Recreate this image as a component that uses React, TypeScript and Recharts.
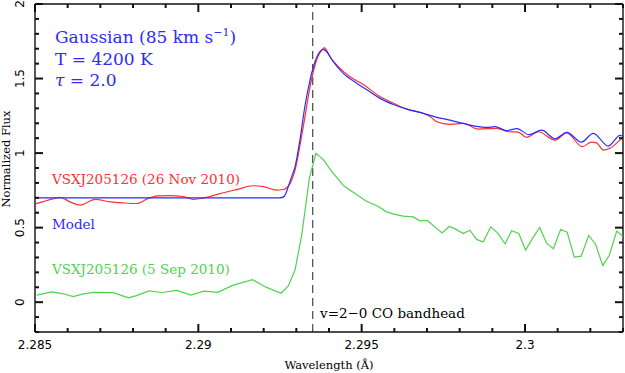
import React from "react";
import { LineChart, Line, XAxis, YAxis, ReferenceLine } from "recharts";

// Model (Gaussian 85 km/s, T = 4200 K, tau = 2.0)
const modelWave = [
  2.285, 2.2925, 2.29262, 2.29275, 2.29285, 2.29296, 2.29311, 2.29326, 2.29342,
  2.29357, 2.29372, 2.29382, 2.29393, 2.29413, 2.29444, 2.29485, 2.29525, 2.29556,
  2.29597, 2.29638, 2.29689, 2.2973, 2.2977, 2.29811, 2.29852, 2.29883, 2.29908,
  2.29944, 2.29975, 2.30012, 2.30051, 2.30092, 2.30128, 2.30173, 2.30209, 2.30255,
  2.30291, 2.303,
];
const modelFlux = [
  0.7, 0.7, 0.708, 0.772, 0.839, 0.908, 1.087, 1.311, 1.49,
  1.613, 1.68, 1.696, 1.68, 1.613, 1.535, 1.468, 1.411, 1.367,
  1.326, 1.295, 1.266, 1.24, 1.221, 1.199, 1.179, 1.172, 1.177,
  1.151, 1.164, 1.124, 1.154, 1.096, 1.139, 1.074, 1.132, 1.047,
  1.119, 1.114,
];

// VSXJ205126, 26 Nov 2010
const novWave = [
  2.28503, 2.28541, 2.28577, 2.28607, 2.28638, 2.28684, 2.2873, 2.2877, 2.28811,
  2.28847, 2.28876, 2.28913, 2.28954, 2.28985, 2.29015, 2.29066, 2.29117, 2.29168,
  2.29199, 2.2924, 2.2926, 2.29281, 2.29296, 2.29321, 2.29342, 2.29362, 2.29372,
  2.29386, 2.29403, 2.29434, 2.29464, 2.29505, 2.29556, 2.29596, 2.29627, 2.29658,
  2.29689, 2.29709, 2.2973, 2.2977, 2.29811, 2.29857, 2.29913, 2.29949, 2.29979,
  2.30005, 2.30041, 2.30092, 2.30128, 2.30175, 2.30204, 2.30219, 2.3024, 2.3026,
  2.30296, 2.303,
];
const novFlux = [
  0.661, 0.685, 0.703, 0.673, 0.651, 0.689, 0.673, 0.666, 0.662,
  0.696, 0.713, 0.715, 0.709, 0.69, 0.698, 0.728, 0.755, 0.781,
  0.775, 0.752, 0.756, 0.797, 0.886, 1.174, 1.445, 1.624, 1.671,
  1.706, 1.646, 1.568, 1.512, 1.46, 1.379, 1.336, 1.304, 1.285,
  1.266, 1.245, 1.21, 1.193, 1.199, 1.161, 1.166, 1.143, 1.141,
  1.105, 1.143, 1.087, 1.136, 1.043, 1.074, 1.069, 1.02, 1.032,
  1.099, 1.107,
];

// VSXJ205126, 5 Sep 2010
const sepWave = [
  2.28505, 2.28551, 2.28584, 2.28617, 2.28648, 2.28678, 2.2874, 2.28786, 2.28811,
  2.28849, 2.28888, 2.28934, 2.28977, 2.29017, 2.29059, 2.29107, 2.29166, 2.29209,
  2.29253, 2.29275, 2.29296, 2.29316, 2.29331, 2.2934, 2.2936, 2.29382, 2.29408,
  2.29444, 2.29474, 2.29512, 2.29551, 2.29576, 2.29602, 2.29627, 2.29658, 2.29678,
  2.29701, 2.29724, 2.29746, 2.29768, 2.29788, 2.29811, 2.29831, 2.29852, 2.29872,
  2.29895, 2.29916, 2.29939, 2.29959, 2.29981, 2.30002, 2.30023, 2.30045, 2.30066,
  2.30087, 2.30109, 2.30129, 2.30151, 2.30172, 2.30195, 2.30216, 2.30238, 2.30258,
  2.30281, 2.303,
];
const sepFlux = [
  0.047, 0.069, 0.058, 0.038, 0.056, 0.066, 0.064, 0.029, 0.044,
  0.076, 0.065, 0.079, 0.047, 0.074, 0.066, 0.114, 0.151, 0.099,
  0.06, 0.107, 0.215, 0.443, 0.685, 0.832, 0.998, 0.958, 0.879,
  0.782, 0.738, 0.68, 0.642, 0.606, 0.589, 0.577, 0.572, 0.546,
  0.548, 0.505, 0.465, 0.508, 0.49, 0.461, 0.483, 0.421, 0.403,
  0.505, 0.465, 0.391, 0.479, 0.461, 0.349, 0.428, 0.501, 0.396,
  0.358, 0.488, 0.47, 0.302, 0.309, 0.448, 0.389, 0.246, 0.315,
  0.477, 0.44,
];

const bandhead = 2.2935;
const xDomain = [2.285, 2.303];
const yDomain = [-0.2, 2.0];
const xTicks = Array.from({ length: 19 }, (_, i) => +(2.285 + i * 0.001).toFixed(3));
const yTicks = Array.from({ length: 23 }, (_, i) => +(-0.2 + i * 0.1).toFixed(1));

const RED = "#ff2f2f";
const BLUE = "#2b2bff";
const GREEN = "#4fd34f";
const INK = "#111";

const W = 625;
const H = 373;
const MARGIN = { top: 4, right: 2, bottom: 0, left: 0 };
const PLOT_TOP = MARGIN.top;
const PLOT_RIGHT = W - MARGIN.right;

const pts = (w: number[], f: number[]) => w.map((x, i) => ({ w: x, f: f[i] }));

const isMajorX = (v: number) => Math.abs(v * 200 - Math.round(v * 200)) < 1e-6;
const isMajorY = (v: number) => Math.abs(v * 2 - Math.round(v * 2)) < 1e-6;
const fmt = (v: number) => String(parseFloat(v.toFixed(3)));

const tickFont = { fontFamily: "DejaVu Sans", fontSize: 12, fill: "#000" };
const tickLine = { stroke: INK, strokeWidth: 2 };

// bottom axis: inward ticks + labels, mirrored on the top edge
const BottomTick = ({ x, y, payload }: any) => {
  const len = isMajorX(payload.value) ? 8 : 4;
  return (
    <g>
      <line x1={x} x2={x} y1={y} y2={y - len} {...tickLine} />
      <line x1={x} x2={x} y1={PLOT_TOP} y2={PLOT_TOP + len} {...tickLine} />
      {len === 8 && (
        <text x={x} y={y + 17} textAnchor="middle" {...tickFont}>
          {fmt(payload.value)}
        </text>
      )}
    </g>
  );
};

// left axis: inward ticks + rotated labels, mirrored on the right edge
const LeftTick = ({ x, y, payload }: any) => {
  const len = isMajorY(payload.value) ? 8 : 4;
  return (
    <g>
      <line x1={x} x2={x + len} y1={y} y2={y} {...tickLine} />
      <line x1={PLOT_RIGHT} x2={PLOT_RIGHT - len} y1={y} y2={y} {...tickLine} />
      {len === 8 && (
        <text
          x={x - 11}
          y={y}
          textAnchor="middle"
          transform={`rotate(-90, ${x - 11}, ${y})`}
          {...tickFont}
        >
          {fmt(payload.value)}
        </text>
      )}
    </g>
  );
};

const serif = { fontFamily: "DejaVu Serif" };

export default function App() {
  return (
    <div style={{ position: "absolute", left: 0, top: 0, width: W, height: H, background: "#fff" }}>
      <LineChart width={W} height={H} margin={MARGIN}>
        <ReferenceLine x={bandhead} stroke="#555" strokeWidth={1.3} strokeDasharray="8 5" />
        <ReferenceLine y={yDomain[1]} stroke={INK} strokeWidth={1.4} />
        <ReferenceLine x={xDomain[1]} stroke={INK} strokeWidth={1.4} />
        <Line
          data={pts(sepWave, sepFlux)}
          dataKey="f"
          type="linear"
          stroke={GREEN}
          strokeWidth={1.2}
          dot={false}
          isAnimationActive={false}
        />
        <Line
          data={pts(novWave, novFlux)}
          dataKey="f"
          type="monotone"
          stroke={RED}
          strokeWidth={1.2}
          dot={false}
          isAnimationActive={false}
        />
        <Line
          data={pts(modelWave, modelFlux)}
          dataKey="f"
          type="monotone"
          stroke={BLUE}
          strokeWidth={1.2}
          dot={false}
          isAnimationActive={false}
        />
        <XAxis
          dataKey="w"
          type="number"
          domain={xDomain}
          allowDataOverflow
          ticks={xTicks}
          interval={0}
          height={41}
          tickSize={0}
          tickMargin={0}
          tickLine={false}
          tick={<BottomTick />}
          axisLine={{ stroke: INK, strokeWidth: 1.4 }}
        />
        <YAxis
          dataKey="f"
          type="number"
          domain={yDomain}
          allowDataOverflow
          ticks={yTicks}
          interval={0}
          width={35}
          tickSize={0}
          tickMargin={0}
          tickLine={false}
          tick={<LeftTick />}
          axisLine={{ stroke: INK, strokeWidth: 1.4 }}
        />
      </LineChart>
      <svg width={W} height={H} style={{ position: "absolute", left: 0, top: 0, pointerEvents: "none" }}>
        <g {...serif} fontSize={17} fill={BLUE}>
          <text x={55} y={42.5}>
            Gaussian (85 km s
            <tspan dy={-7} fontSize={11}>−1</tspan>
            <tspan dy={7}>)</tspan>
          </text>
          <text x={55} y={64.5}>T = 4200 K</text>
          <text x={55} y={86}>
            <tspan fontStyle="italic">τ</tspan> = 2.0
          </text>
        </g>
        <g {...serif} fontSize={13.5}>
          <text x={52} y={183.5} fill={RED}>VSXJ205126 (26 Nov 2010)</text>
          <text x={52} y={228.5} fill={BLUE}>Model</text>
          <text x={52} y={273.5} fill={GREEN}>VSXJ205126 (5 Sep 2010)</text>
          <text x={320} y={317.5} fill="#000">v=2−0 CO bandhead</text>
        </g>
        <g {...serif} fontSize={11.5} fill="#000">
          <text x={329} y={369} textAnchor="middle">Wavelength (Å)</text>
          <text x={10} y={159} textAnchor="middle" transform="rotate(-90, 10, 159)">
            Normalized Flux
          </text>
        </g>
      </svg>
    </div>
  );
}
